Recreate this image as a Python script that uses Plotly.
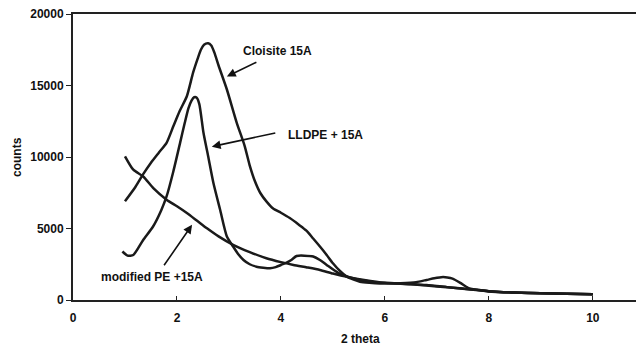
import plotly.graph_objects as go

# Cloisite 15A
cl_x = [1.0, 1.2, 1.35, 1.5, 1.65, 1.8, 1.93, 2.05, 2.19, 2.31, 2.4, 2.46, 2.52, 2.6, 2.66, 2.72, 2.8,
        2.96, 3.15, 3.3, 3.4, 3.5, 3.6, 3.72, 3.85, 4.0, 4.17, 4.35, 4.49, 4.62, 4.75, 4.88, 5.0,
        5.13, 5.26, 5.4, 5.52, 5.7, 5.9, 6.3, 6.6, 6.8, 6.95, 7.05, 7.12, 7.2, 7.3, 7.45, 7.6,
        7.8, 8.0, 8.5, 9.0, 9.5, 10.0]
cl_y = [6900, 7900, 8800, 9600, 10300, 10990, 12150, 13200, 14250, 15900, 16900, 17500, 17850, 17950,
        17800, 17300, 16400, 14720, 12390, 10800, 9400, 8300, 7500, 6900, 6400, 6100, 5730, 5250,
        4850, 4300, 3740, 3150, 2570, 2050, 1650, 1420, 1280, 1200, 1150, 1180, 1250, 1400, 1520,
        1580, 1600, 1580, 1500, 1200, 850, 700, 620, 520, 480, 440, 400]

# LLDPE + 15A
ll_x = [0.95, 1.05, 1.16, 1.35, 1.54, 1.7, 1.8, 1.93, 2.06, 2.15, 2.22, 2.28, 2.33, 2.38, 2.43,
        2.51, 2.6, 2.7, 2.83, 2.96, 3.08, 3.18, 3.28, 3.4, 3.53, 3.66, 3.79, 3.9, 4.0, 4.1, 4.2,
        4.3, 4.45, 4.62, 4.75, 4.88, 5.1, 5.4, 5.8, 6.3, 6.8, 7.2, 7.6, 8.0, 8.5, 9.0, 9.5, 10.0]
ll_y = [3390, 3100, 3150, 4200, 5140, 6300, 7240, 8990, 10990, 12390, 13400, 13950, 14180, 14150,
        13700, 11690, 10050, 8200, 6310, 4440, 3740, 3200, 2800, 2500, 2330, 2260, 2220, 2300,
        2450, 2600, 2800, 3080, 3100, 3040, 2800, 2450, 1900, 1500, 1250, 1150, 1050, 900, 750,
        600, 520, 470, 430, 400]

# modified PE +15A
pe_x = [1.0, 1.16, 1.35, 1.55, 1.8, 2.0, 2.19, 2.4, 2.57, 2.8, 3.08, 3.4, 3.72, 4.0, 4.24, 4.5,
        4.75, 5.0, 5.3, 5.6, 6.0, 6.5, 7.0, 7.5, 8.0, 8.5, 9.0, 9.5, 10.0]
pe_y = [10050, 9110, 8640, 7800, 7010, 6550, 6080, 5500, 5030, 4450, 3860, 3350, 2920, 2650, 2450,
        2280, 2100, 1850, 1600, 1400, 1200, 1100, 950, 800, 620, 520, 470, 430, 400]

x_ticks = [0, 2, 4, 6, 8, 10]
y_ticks = [0, 5000, 10000, 15000, 20000]
y_tick_text = ["0", "5000", "10000", "15000", "20000"]

FONT = "Liberation Sans, Arial, sans-serif"
LINE = "#1a1a1a"

fig = go.Figure()
for xs, ys in [(cl_x, cl_y), (ll_x, ll_y), (pe_x, pe_y)]:
    fig.add_trace(go.Scatter(x=xs, y=ys, mode="lines",
                             line=dict(color=LINE, width=2.5, shape="spline", smoothing=0.6),
                             showlegend=False, hoverinfo="skip"))

labels = [
    ("Cloisite 15A", 3.94, 17385),
    ("LLDPE + 15A", 4.85, 11570),
    ("modified PE +15A", 1.52, 1610),
]
for txt, x, y in labels:
    fig.add_annotation(x=x, y=y, text=txt, showarrow=False, xanchor="center", yanchor="middle",
                       font=dict(family=FONT, size=12, color="#111", weight="bold"))

arrows = [
    (2.96, 15630, 31, -15),
    (2.67, 10725, 65, -14),
    (2.29, 5258, -29, 42),
]
for x, y, ax, ay in arrows:
    fig.add_annotation(x=x, y=y, ax=ax, ay=ay, text="", showarrow=True,
                       arrowhead=2, arrowsize=1.1, arrowwidth=1.6, arrowcolor="#111")

fig.add_annotation(xref="paper", yref="paper", x=-0.0995, y=0.5, text="counts",
                   textangle=-90, showarrow=False, xanchor="center", yanchor="middle",
                   font=dict(family=FONT, size=12, color="#111", weight="bold"))
fig.add_annotation(xref="paper", yref="paper", x=0.51, y=-0.136, text="2 theta",
                   showarrow=False, xanchor="center", yanchor="middle",
                   font=dict(family=FONT, size=12, color="#111", weight="bold"))

fig.update_layout(
    width=636, height=345,
    margin=dict(l=73, r=0, t=14, b=45, autoexpand=False),
    paper_bgcolor="white", plot_bgcolor="white",
    font=dict(family=FONT, size=12, color="#111"),
    hovermode=False,
)
fig.update_xaxes(range=[0, 10.83], tickvals=x_ticks, ticks="inside", ticklen=4,
                 tickcolor="#222", showgrid=False, zeroline=False, automargin=False,
                 showline=True, linecolor="#222", linewidth=2, mirror=True,
                 ticklabelstandoff=6,
                 tickfont=dict(family=FONT, size=12, color="#111", weight="bold"))
fig.update_yaxes(range=[0, 20000], tickvals=y_ticks, ticktext=y_tick_text,
                 ticks="outside", ticklen=5, automargin=False,
                 tickcolor="#222", showgrid=False, zeroline=False,
                 showline=True, linecolor="#222", linewidth=2,
                 tickfont=dict(family=FONT, size=12, color="#111", weight="bold"))

fig.write_html("out.html", config={"displayModeBar": False},
               post_script="document.body.style.margin='0';document.body.style.overflow='hidden';")
